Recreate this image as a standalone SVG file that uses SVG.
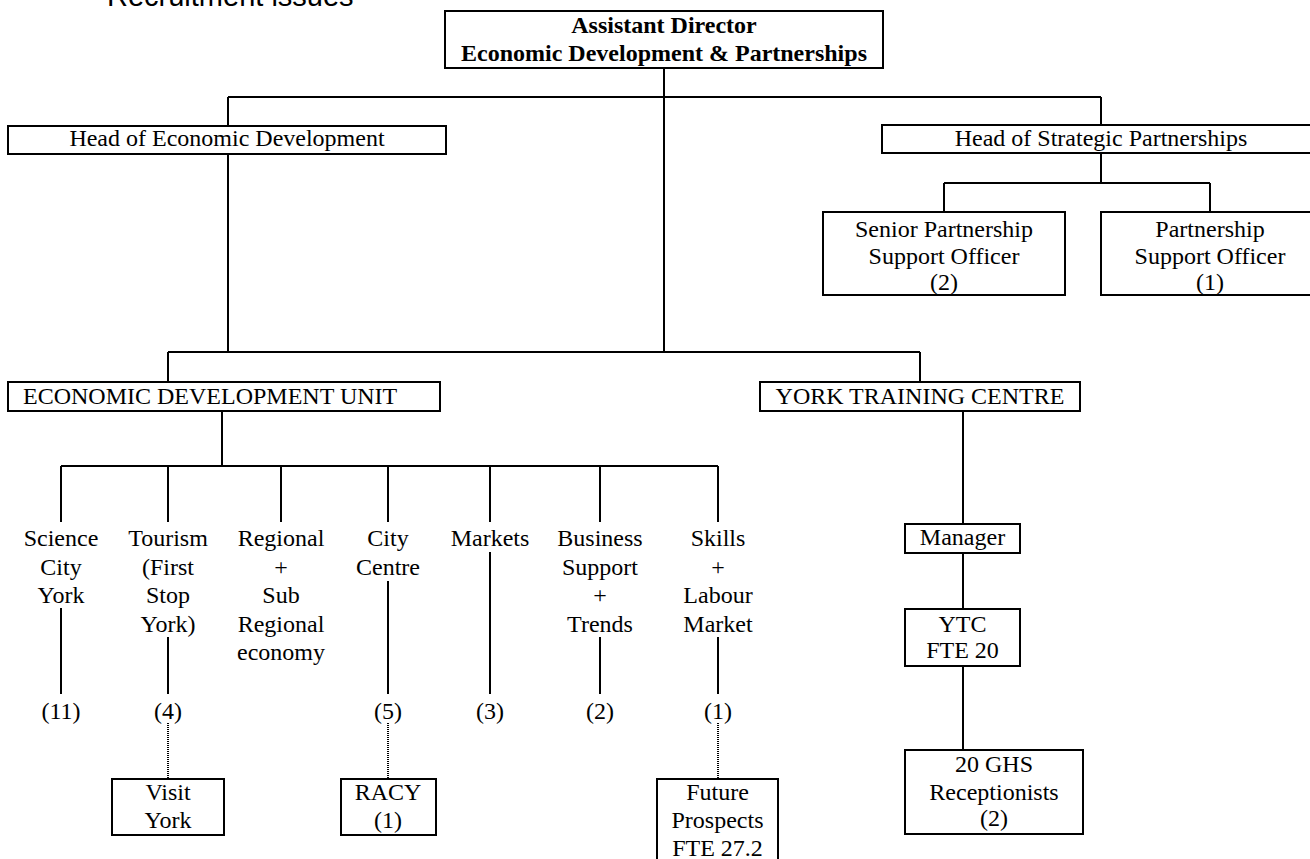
<svg xmlns="http://www.w3.org/2000/svg" width="1310" height="859" viewBox="0 0 1310 859">
<style>
.bx{fill:#fff;stroke:#000;stroke-width:2}
.t{font-family:"Liberation Serif","Times New Roman",serif;font-size:24px;fill:#000;text-anchor:middle}
.b{font-weight:bold}
.ln{stroke:#000;stroke-width:2;fill:none}
.dt{stroke:#000;stroke-width:2;fill:none;stroke-dasharray:1 1}
</style>
<rect width="1310" height="859" fill="#fff"/>
<text x="58" y="6" style="font-family:'Liberation Sans',Arial,sans-serif;font-size:29px">•</text>
<text x="107" y="6" style="font-family:'Liberation Sans',Arial,sans-serif;font-size:29px">Recruitment issues</text>
<g id="connectors">
<path class="ln" d="M664 68V352M228 97H1101M228 97V126M1101 97V125M228 154V352M168 352H920M168 352V382M920 352V382"/>
<path class="ln" d="M1101 153V183M944 183H1210M944 183V212M1210 183V212"/>
<path class="ln" d="M222 411V466M61 466H718M61 466V522M168 466V522M281 466V522M388 466V522M490 466V522M600 466V522M718 466V522"/>
<path class="ln" d="M61 608V694M168 637V694M388 581V694M490 552V694M600 637V694M718 637V694"/>
<path class="dt" d="M168 723V779M388 723V779M718 723V779"/>
<path class="ln" d="M963 411V524M963 553V609M963 666V750"/>
</g>
<g id="n-ad"><rect class="bx" x="445" y="11" width="438" height="57"/><text class="t b" x="664" y="33">Assistant Director</text><text class="t b" x="664" y="61">Economic Development &amp; Partnerships</text></g>
<g id="n-hed"><rect class="bx" x="8" y="126" width="438" height="28"/><text class="t" x="227" y="146">Head of Economic Development</text></g>
<g id="n-hsp"><rect class="bx" x="882" y="125" width="440" height="28"/><text class="t" x="1101" y="146">Head of Strategic Partnerships</text></g>
<g id="n-spso"><rect class="bx" x="823" y="212" width="242" height="83"/><text class="t" x="944" y="237">Senior Partnership</text><text class="t" x="944" y="264">Support Officer</text><text class="t" x="944" y="290">(2)</text></g>
<g id="n-pso"><rect class="bx" x="1101" y="212" width="220" height="83"/><text class="t" x="1210" y="237">Partnership</text><text class="t" x="1210" y="264">Support Officer</text><text class="t" x="1210" y="290">(1)</text></g>
<g id="n-edu"><rect class="bx" x="8" y="382" width="432" height="29"/><text class="t" x="23" y="404" style="text-anchor:start">ECONOMIC DEVELOPMENT UNIT</text></g>
<g id="n-ytc"><rect class="bx" x="760" y="382" width="320" height="29"/><text class="t" x="920" y="404">YORK TRAINING CENTRE</text></g>
<g id="n-sci"><text class="t" x="61" y="546">Science</text><text class="t" x="61" y="574.5">City</text><text class="t" x="61" y="603">York</text><text class="t" x="61" y="719">(11)</text></g>
<g id="n-tour"><text class="t" x="168" y="546">Tourism</text><text class="t" x="168" y="574.5">(First</text><text class="t" x="168" y="603">Stop</text><text class="t" x="168" y="631.5">York)</text><text class="t" x="168" y="719">(4)</text></g>
<g id="n-reg"><text class="t" x="281" y="546">Regional</text><text class="t" x="281" y="574.5">+</text><text class="t" x="281" y="603">Sub</text><text class="t" x="281" y="631.5">Regional</text><text class="t" x="281" y="660">economy</text></g>
<g id="n-cc"><text class="t" x="388" y="546">City</text><text class="t" x="388" y="574.5">Centre</text><text class="t" x="388" y="719">(5)</text></g>
<g id="n-mkt"><text class="t" x="490" y="546">Markets</text><text class="t" x="490" y="719">(3)</text></g>
<g id="n-bus"><text class="t" x="600" y="546">Business</text><text class="t" x="600" y="574.5">Support</text><text class="t" x="600" y="603">+</text><text class="t" x="600" y="631.5">Trends</text><text class="t" x="600" y="719">(2)</text></g>
<g id="n-skl"><text class="t" x="718" y="546">Skills</text><text class="t" x="718" y="574.5">+</text><text class="t" x="718" y="603">Labour</text><text class="t" x="718" y="631.5">Market</text><text class="t" x="718" y="719">(1)</text></g>
<g id="n-visit"><rect class="bx" x="112" y="779" width="112" height="56"/><text class="t" x="168" y="800">Visit</text><text class="t" x="168" y="828">York</text></g>
<g id="n-racy"><rect class="bx" x="341" y="779" width="95" height="56"/><text class="t" x="388" y="800">RACY</text><text class="t" x="388" y="828">(1)</text></g>
<g id="n-fp"><rect class="bx" x="657" y="779" width="121" height="90"/><text class="t" x="717.5" y="800">Future</text><text class="t" x="717.5" y="828">Prospects</text><text class="t" x="717.5" y="856">FTE 27.2</text></g>
<g id="n-mgr"><rect class="bx" x="905" y="524" width="115" height="29"/><text class="t" x="962.5" y="545">Manager</text></g>
<g id="n-ytc2"><rect class="bx" x="905" y="609" width="115" height="57"/><text class="t" x="962.5" y="632">YTC</text><text class="t" x="962.5" y="658">FTE 20</text></g>
<g id="n-rec"><rect class="bx" x="905" y="750" width="178" height="84"/><text class="t" x="994" y="772">20 GHS</text><text class="t" x="994" y="800">Receptionists</text><text class="t" x="994" y="826">(2)</text></g>
</svg>
